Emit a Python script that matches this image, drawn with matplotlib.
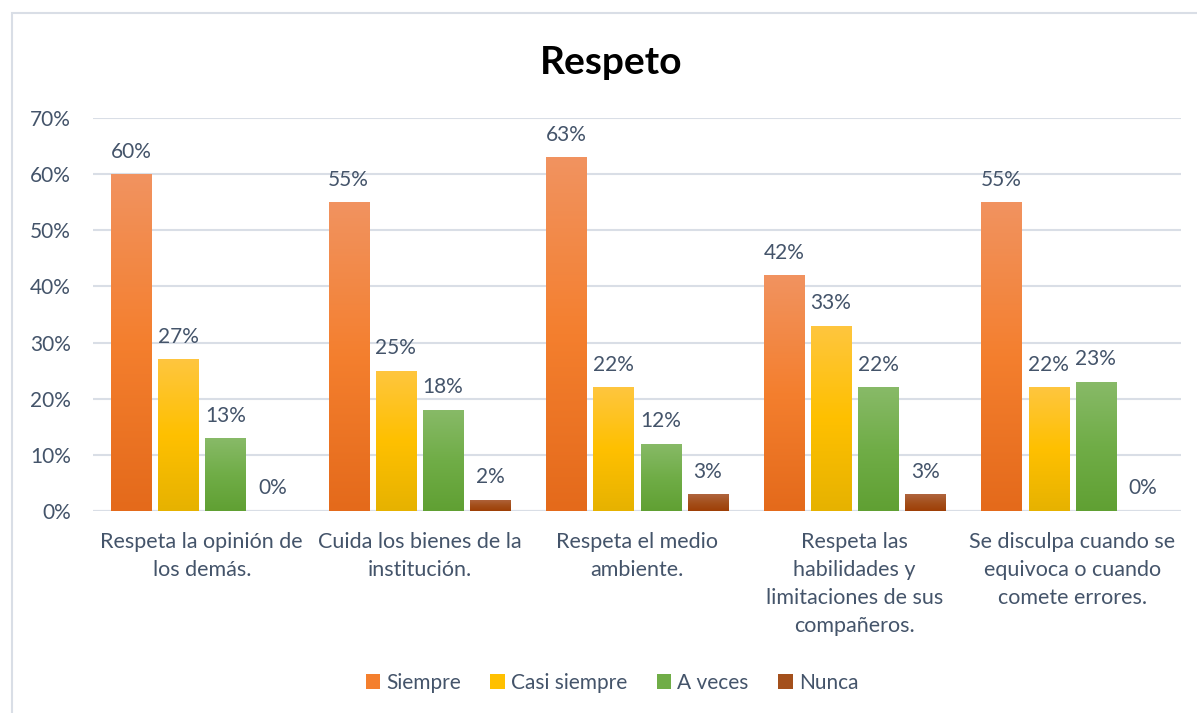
import numpy as np
import matplotlib
matplotlib.use("Agg")
import matplotlib.pyplot as plt
from matplotlib.colors import LinearSegmentedColormap
from matplotlib.patches import Rectangle

plt.rcParams['font.family'] = ['Lato', 'DejaVu Sans']

categories = ["Respeta la opinión de\nlos demás.",
              "Cuida los bienes de la\ninstitución.",
              "Respeta el medio\nambiente.",
              "Respeta las\nhabilidades y\nlimitaciones de sus\ncompañeros.",
              "Se disculpa cuando se\nequivoca o cuando\ncomete errores."]
series = ["Siempre", "Casi siempre", "A veces", "Nunca"]
siempre = [0.60, 0.55, 0.63, 0.42, 0.55]
casi_siempre = [0.27, 0.25, 0.22, 0.33, 0.22]
a_veces = [0.13, 0.18, 0.12, 0.22, 0.23]
nunca = [0.00, 0.02, 0.03, 0.03, 0.00]
values = [siempre, casi_siempre, a_veces, nunca]

# gradient stops top -> middle -> bottom (Excel style fill)
grads = [["#F19360", "#F47F2E", "#E46A1B"],
         ["#FEC63F", "#FFC000", "#E6B200"],
         ["#88BA68", "#70AD47", "#60A033"],
         ["#B0653F", "#A4501C", "#9E3F06"]]
text_col = "#44546A"
grid_col = "#D9DEE6"

fig = plt.figure(figsize=(11.97, 7.13), dpi=100)
fig.patches.append(Rectangle((12/1197, -0.01), 1.2, 1 - 13/713 + 0.01,
                             transform=fig.transFigure, fill=False,
                             edgecolor="#D9DEE6", lw=1.5))
ax = fig.add_axes([93/1197, (713-511)/713, (1181-93)/1197, (511-118)/713])

x = np.arange(len(categories))
step = 0.217
width = 0.184
for k, (name, vals) in enumerate(zip(series, values)):
    cmap = LinearSegmentedColormap.from_list(name, grads[k][::-1])
    bars = ax.bar(x + (k - 1.5) * step, vals, width, color=grads[k][1],
                  label=name, zorder=2)
    for b, v in zip(bars, vals):
        if v > 0:
            grad = np.linspace(0, 1, 256).reshape(-1, 1)
            im = ax.imshow(grad, cmap=cmap, origin="lower", aspect="auto",
                           extent=[b.get_x(), b.get_x() + b.get_width(), 0, v],
                           zorder=2.1)
            im.set_clip_path(b)
        ax.annotate(f"{v:.0%}", (b.get_x() + b.get_width() / 2, v),
                    xytext=(0, 9), textcoords="offset points",
                    ha="center", va="bottom", fontsize=15, color=text_col)

ax.set_xlim(-0.5, len(categories) - 0.5)
ax.set_ylim(0, 0.70)
ax.set_yticks(np.arange(0, 0.71, 0.10))
ax.set_yticklabels([f"{t:.0%}" for t in np.arange(0, 0.71, 0.10)])
ax.set_xticks(x)
ax.set_xticklabels(categories, linespacing=1.5)
ax.tick_params(axis="both", length=0, labelsize=15, labelcolor=text_col)
ax.tick_params(axis="x", labelsize=15.5)
ax.tick_params(axis="y", pad=16)
ax.tick_params(axis="x", pad=15)
for lab in ax.get_yticklabels():
    lab.set_ha("right")
ax.yaxis.grid(True, color=grid_col, lw=1.5, zorder=0)
ax.set_axisbelow(True)
for s in ax.spines.values():
    s.set_visible(False)
ax.axhline(0, color=grid_col, lw=1.5, zorder=1)

fig.text(611/1197, 1 - 62/713, "Respeto", ha="center", va="center",
         fontsize=28, fontweight="bold", color="black")

leg = fig.legend(loc="center", bbox_to_anchor=(612/1197, 1 - 683/713), ncol=4,
                 frameon=False, fontsize=15, handlelength=0.7, handleheight=0.7,
                 handletextpad=0.3, columnspacing=1.4, labelcolor=text_col)

fig.savefig("out.png", dpi=100)
